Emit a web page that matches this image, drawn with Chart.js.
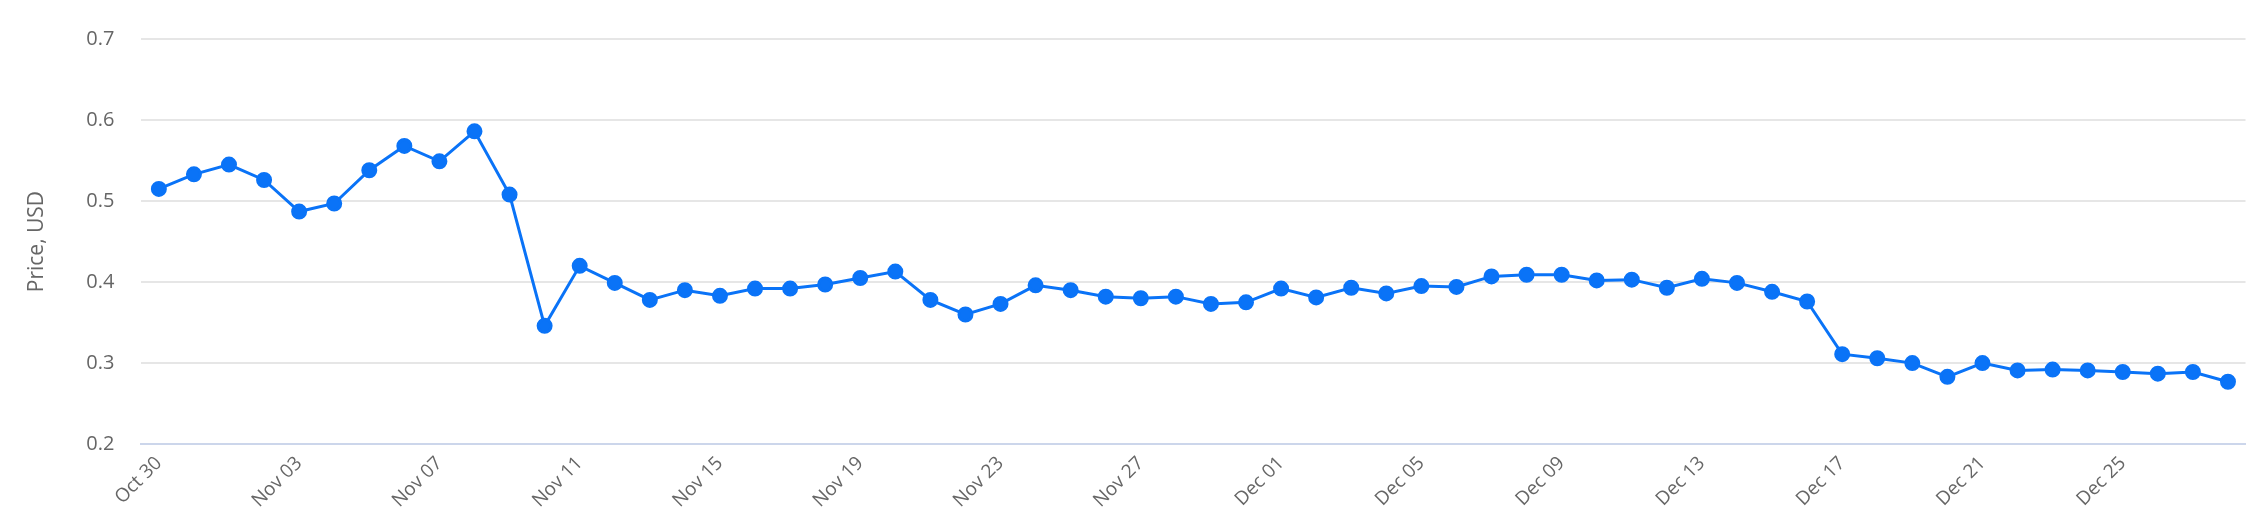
<!DOCTYPE html>
<html>
<head>
<meta charset="utf-8">
<script src="https://cdn.jsdelivr.net/npm/chart.js@4/dist/chart.umd.min.js"></script>
<style>
  html, body { margin: 0; padding: 0; background: #fff; }
  #wrap { width: 2255px; height: 522px; }
</style>
</head>
<body>
<div id="wrap"><canvas id="chart"></canvas></div>
<script>
// daily closing price, Oct 30 - Dec 28
const dates = [
    'Oct 30', 'Oct 31', 'Nov 01', 'Nov 02', 'Nov 03', 'Nov 04', 'Nov 05', 'Nov 06', 'Nov 07', 'Nov 08',
    'Nov 09', 'Nov 10', 'Nov 11', 'Nov 12', 'Nov 13', 'Nov 14', 'Nov 15', 'Nov 16', 'Nov 17', 'Nov 18',
    'Nov 19', 'Nov 20', 'Nov 21', 'Nov 22', 'Nov 23', 'Nov 24', 'Nov 25', 'Nov 26', 'Nov 27', 'Nov 28',
    'Nov 29', 'Nov 30', 'Dec 01', 'Dec 02', 'Dec 03', 'Dec 04', 'Dec 05', 'Dec 06', 'Dec 07', 'Dec 08',
    'Dec 09', 'Dec 10', 'Dec 11', 'Dec 12', 'Dec 13', 'Dec 14', 'Dec 15', 'Dec 16', 'Dec 17', 'Dec 18',
    'Dec 19', 'Dec 20', 'Dec 21', 'Dec 22', 'Dec 23', 'Dec 24', 'Dec 25', 'Dec 26', 'Dec 27', 'Dec 28'
];
const prices = [
    0.515, 0.533, 0.545, 0.526, 0.487, 0.497, 0.538, 0.568, 0.549, 0.586,
    0.508, 0.346, 0.420, 0.399, 0.378, 0.390, 0.383, 0.392, 0.392, 0.397,
    0.405, 0.413, 0.378, 0.360, 0.373, 0.396, 0.390, 0.382, 0.380, 0.382,
    0.373, 0.375, 0.392, 0.381, 0.393, 0.386, 0.395, 0.394, 0.407, 0.409,
    0.409, 0.402, 0.403, 0.393, 0.404, 0.399, 0.388, 0.376, 0.311, 0.306,
    0.300, 0.283, 0.300, 0.291, 0.292, 0.291, 0.289, 0.287, 0.289, 0.277
];
const yTicks = [0.2, 0.3, 0.4, 0.5, 0.6, 0.7];

const LINE = '#0a73f7';
const TEXT = '#666666';

new Chart(document.getElementById('chart'), {
    type: 'line',
    data: {
        labels: dates,
        datasets: [{
            label: 'Price',
            data: prices,
            borderColor: LINE,
            backgroundColor: LINE,
            pointBackgroundColor: LINE,
            pointBorderColor: LINE,
            borderWidth: 3,
            pointRadius: 6.5,
            tension: 0,
        }]
    },
    options: {
        responsive: true,
        maintainAspectRatio: false,
        animation: false,
        layout: { padding: { top: 14, right: 7, left: 14, bottom: 2 } },
        plugins: { legend: { display: false }, tooltip: { enabled: false } },
        scales: {
            x: {
                offset: true,
                grid: { display: false, drawTicks: false },
                border: { color: '#ccd6eb', width: 2 },
                ticks: {
                    autoSkip: false,
                    maxRotation: 45,
                    minRotation: 45,
                    padding: 8,
                    color: TEXT,
                    font: { family: 'Open Sans, sans-serif', size: 19 },
                    callback: (v, i) => i % 4 === 0 ? dates[i] : null,
                }
            },
            y: {
                min: 0.2,
                max: 0.7,
                afterBuildTicks: (axis) => { axis.ticks = yTicks.map(v => ({ value: v })); },
                grid: { color: '#e6e6e6', lineWidth: 2, drawTicks: false },
                border: { display: false },
                ticks: {
                    padding: 27,
                    color: TEXT,
                    font: { family: 'Open Sans, sans-serif', size: 20 },
                    callback: v => v.toFixed(1),
                },
                title: {
                    display: true,
                    text: 'Price, USD',
                    color: TEXT,
                    font: { family: 'Open Sans, sans-serif', size: 21 },
                    padding: 10,
                }
            }
        }
    }
});
</script>
</body>
</html>
